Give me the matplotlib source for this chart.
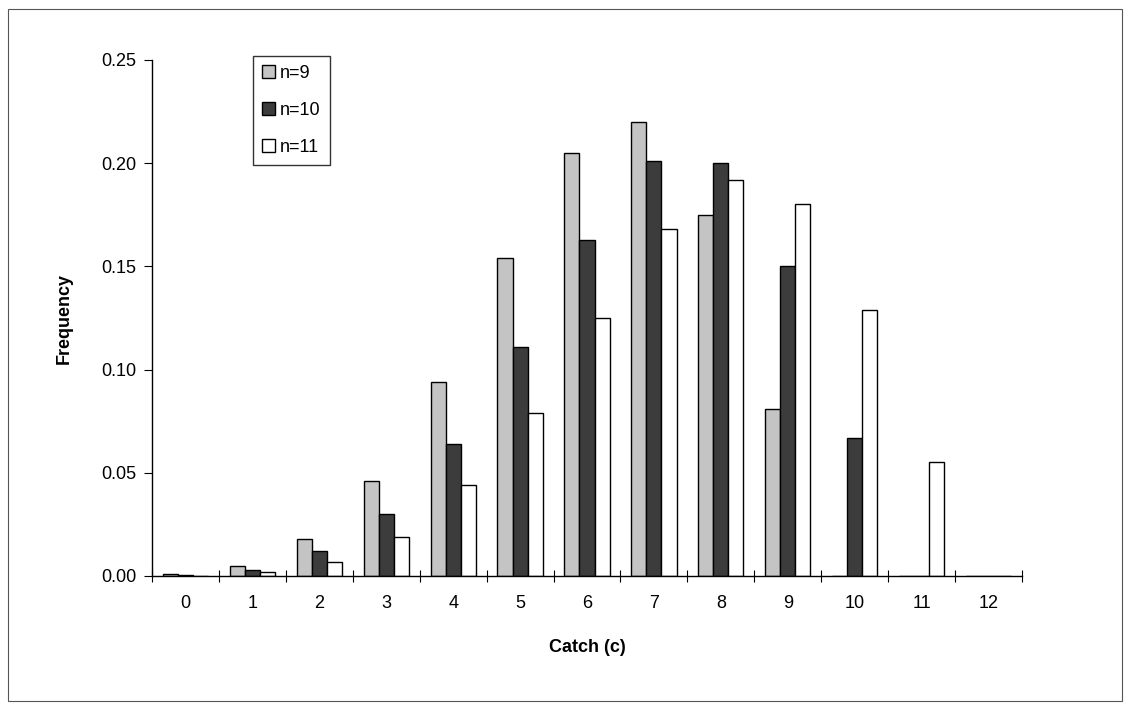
import numpy as np
import matplotlib.pyplot as plt
from matplotlib.patches import Rectangle

plt.rcParams['font.family'] = ['Liberation Sans', 'DejaVu Sans']

# Data #
catch = list(range(13))
freq_n9 = [0.001, 0.005, 0.018, 0.046, 0.094, 0.154, 0.205, 0.220, 0.175, 0.081, 0.0, 0.0, 0.0]
freq_n10 = [0.0003, 0.003, 0.012, 0.030, 0.064, 0.111, 0.163, 0.201, 0.200, 0.150, 0.067, 0.0, 0.0]
freq_n11 = [0.0001, 0.002, 0.007, 0.019, 0.044, 0.079, 0.125, 0.168, 0.192, 0.180, 0.129, 0.055, 0.0]
series = [('n=9', freq_n9, '#c4c4c4'),
          ('n=10', freq_n10, '#3c3c3c'),
          ('n=11', freq_n11, 'white')]

# Figure #
fig = plt.figure(figsize=(11.3, 7.09), dpi=100)
ax = fig.add_axes([152 / 1130, 1 - 576 / 709, 870 / 1130, 516 / 709])

# outer frame around the chart
fig.patches.append(Rectangle((8 / 1130, 8 / 709), 1114 / 1130, 692 / 709, transform=fig.transFigure,
                             fill=False, edgecolor='#555555', linewidth=0.8))

x = np.arange(len(catch))
w = 0.225
for i, (lab, vals, col) in enumerate(series):
    ax.bar(x + (i - 1) * w, vals, width=w, color=col, edgecolor='black', linewidth=1.0, label=lab)

ax.set_xlim(-0.5, 12.5)
ax.set_ylim(0, 0.25)
ax.set_yticks([0, 0.05, 0.10, 0.15, 0.20, 0.25])
ax.set_yticklabels(['0.00', '0.05', '0.10', '0.15', '0.20', '0.25'], fontsize=13)
ax.set_xticks(x)
ax.set_xticklabels([str(c) for c in catch], fontsize=13)
ax.set_xticks(np.arange(-0.5, 13, 1), minor=True)
ax.tick_params(axis='x', which='major', length=0, pad=14)
ax.tick_params(axis='x', which='minor', direction='inout', length=8, width=0.8)
ax.tick_params(axis='y', direction='out', length=6, width=0.8, pad=5)

for s in ['top', 'right']:
    ax.spines[s].set_visible(False)
for s in ['left', 'bottom']:
    ax.spines[s].set_linewidth(1.0)

ax.set_xlabel('Catch (c)', fontsize=13, fontweight='bold', labelpad=19)
ax.set_ylabel('Frequency', fontsize=13, fontweight='bold', labelpad=21)

leg = ax.legend(loc='upper left', bbox_to_anchor=(0.116, 1.008), fontsize=13, frameon=True, fancybox=False,
                handlelength=0.7, handleheight=0.7, handletextpad=0.3, labelspacing=1.1, borderpad=0.5,
                borderaxespad=0)
leg.get_frame().set_edgecolor('black')
leg.get_frame().set_linewidth(1.0)

plt.savefig('out.png', dpi=100)
